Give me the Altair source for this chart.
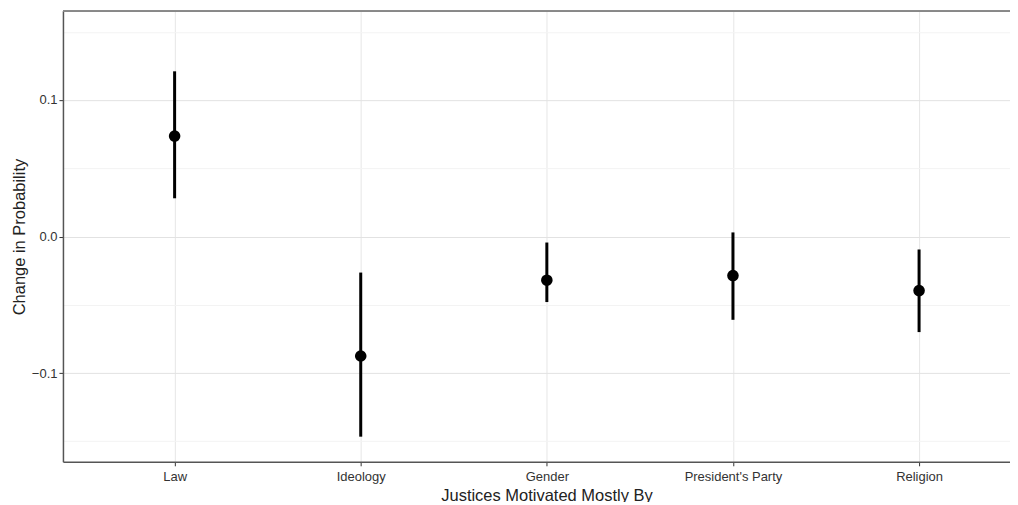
import altair as alt
import pandas as pd

categories = ["Law", "Ideology", "Gender", "President's Party", "Religion"]
estimate = [0.0736, -0.0875, -0.032, -0.0286, -0.0396]
lower = [0.028, -0.1466, -0.048, -0.061, -0.070]
upper = [0.121, -0.0264, -0.0044, 0.003, -0.0095]

df = pd.DataFrame({
    "idx": list(range(len(categories))),
    "cat": categories,
    "est": estimate,
    "lo": lower,
    "hi": upper,
})

W = 948
H = 451
label_expr = "[" + ",".join("'" + c.replace("'", "\\'") + "'" for c in categories) + "][round(datum.value)]"

xscale = alt.Scale(domain=[-0.6, -0.6 + W / 186.3], nice=False, zero=False)
yscale = alt.Scale(domain=[-0.165, 0.165], nice=False, zero=False)

major_test = "abs(datum.value*10 - round(datum.value*10)) < 0.01"

grid_cond = {
    "condition": {"test": major_test, "value": "#e2e2e2"},
    "value": "#f3f3f3",
}

xaxis = alt.Axis(
    values=list(range(len(categories))),
    labelExpr=label_expr,
    title="Justices Motivated Mostly By",
    titleX=484,
    titleAnchor="start",
    titleAlign="center",
    titlePadding=4,
    titleFontSize=16.5,
    titleFontWeight="normal",
    titleColor="#222222",
    labelFontSize=13,
    labelColor="#333333",
    labelPadding=5,
    tickSize=4,
    tickColor="#333333",
    domainColor="#555555",
    domainWidth=1.5,
    gridColor="#e6e6e6",
    labelFlush=False,
)

yaxis = alt.Axis(
    values=[-0.15, -0.1, -0.05, 0.0, 0.05, 0.1, 0.15],
    labelExpr="abs(datum.value*10 - round(datum.value*10)) < 0.01 ? format(datum.value, '.1f') : ''",
    title="Change in Probability",
    titleFontSize=16.5,
    titleFontWeight="normal",
    titleColor="#222222",
    titlePadding=4,
    labelFontSize=13,
    labelColor="#333333",
    labelPadding=2,
    tickSize=4,
    tickColor={"condition": {"test": major_test, "value": "#333333"}, "value": "transparent"},
    domainColor="#555555",
    domainWidth=1.5,
    gridColor=grid_cond,
)

base = alt.Chart(df)

bars = base.mark_rule(color="black", strokeWidth=3).encode(
    x=alt.X("idx:Q", scale=xscale, axis=xaxis),
    y=alt.Y("lo:Q", scale=yscale, axis=yaxis),
    y2="hi:Q",
)

pts = base.mark_point(filled=True, color="black", size=135, opacity=1).encode(
    x=alt.X("idx:Q", scale=xscale),
    y=alt.Y("est:Q", scale=yscale),
)

top = alt.Chart(df).mark_rule(color="#888888", strokeWidth=1.5).encode(
    x=alt.value(0), x2=alt.value(W), y=alt.value(0)
)

chart = alt.layer(bars, pts, top).properties(
    width=W,
    height=H,
    autosize=alt.AutoSizeParams(type="none"),
    padding={"left": 55, "top": 3, "right": 0, "bottom": 40},
).configure_view(stroke=None).configure_axis(
    labelFont="Liberation Sans", titleFont="Liberation Sans"
)

chart.save("out.html", embed_options={"renderer": "svg", "actions": False})
